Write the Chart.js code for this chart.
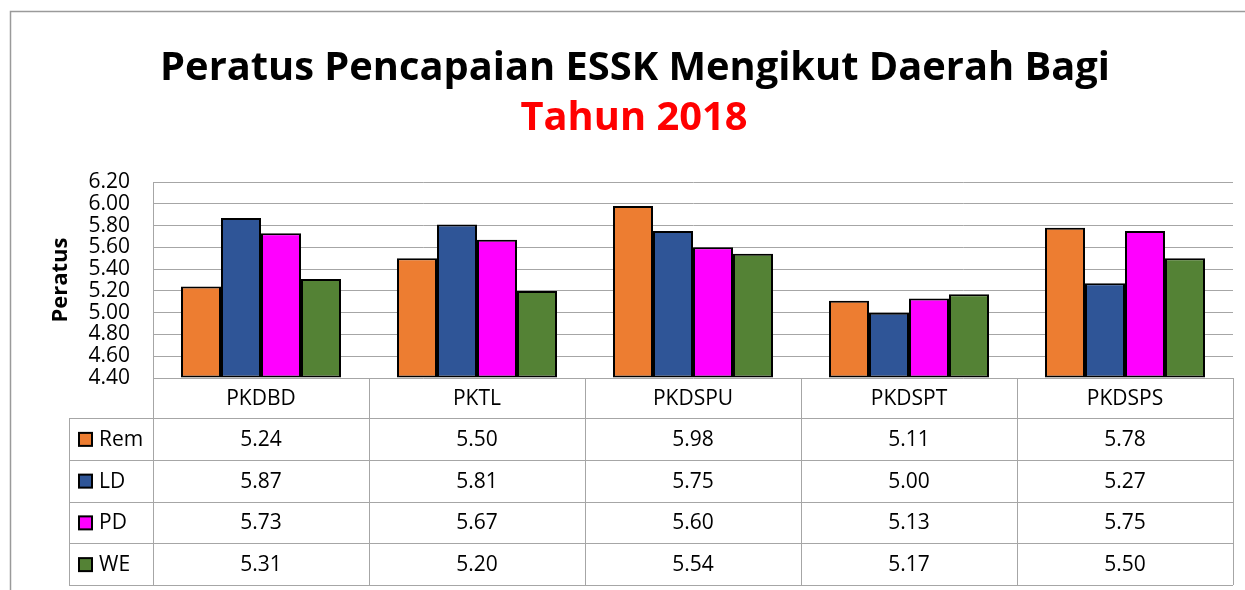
<!DOCTYPE html>
<html><head><meta charset="utf-8">
<script src="https://cdn.jsdelivr.net/npm/chart.js@4.4.1/dist/chart.umd.min.js"></script>
<style>html,body{margin:0;padding:0;background:#fff;overflow:hidden}canvas{display:block}</style>
</head><body>
<canvas id="c" width="1245" height="590"></canvas>
<script>
const titleLine1 = 'Peratus Pencapaian ESSK Mengikut Daerah Bagi';
const titleLine2 = 'Tahun 2018';
const yAxisTitle = 'Peratus';
const categories = ['PKDBD', 'PKTL', 'PKDSPU', 'PKDSPT', 'PKDSPS'];
const seriesNames = ['Rem', 'LD', 'PD', 'WE'];
const remValues = [5.24, 5.50, 5.98, 5.11, 5.78];
const ldValues = [5.87, 5.81, 5.75, 5.00, 5.27];
const pdValues = [5.73, 5.67, 5.60, 5.13, 5.75];
const weValues = [5.31, 5.20, 5.54, 5.17, 5.50];
const seriesColors = ['#ED7D31', '#2F5597', '#FF00FF', '#548235'];
const yMin = 4.4, yMax = 6.2, yStep = 0.2;

const FAMILY = '"Open Sans", "Noto Sans", sans-serif';
const GRID = '#A6A6A6';

const mctx = document.createElement('canvas').getContext('2d');
function fitSize(text, targetW) {
  mctx.font = 'bold 100px ' + FAMILY;
  return 100 * targetW / mctx.measureText(text).width;
}
const titleSize = fitSize(titleLine1, 950);

const allSeries = [remValues, ldValues, pdValues, weValues];

const framePlugin = {
  id: 'frame',
  beforeDraw(chart) {
    const ctx = chart.ctx;
    ctx.save();
    ctx.fillStyle = '#fff';
    ctx.fillRect(0, 0, chart.width, chart.height);
    ctx.strokeStyle = '#9A9A9A';
    ctx.lineWidth = 1.5;
    ctx.beginPath();
    ctx.moveTo(chart.width, 11.5);
    ctx.lineTo(10.5, 11.5);
    ctx.lineTo(10.5, chart.height);
    ctx.stroke();
    ctx.textAlign = 'center';
    ctx.textBaseline = 'alphabetic';
    ctx.font = 'bold ' + titleSize + 'px ' + FAMILY;
    ctx.fillStyle = '#000';
    ctx.fillText(titleLine1, 635, 80);
    ctx.fillStyle = '#FF0000';
    ctx.fillText(titleLine2, 634, 130);
    ctx.restore();
  }
};

const tablePlugin = {
  id: 'dataTable',
  afterDraw(chart) {
    const ctx = chart.ctx;
    const area = chart.chartArea;
    const n = categories.length;
    const colW = area.width / n;
    const headerTop = area.bottom;
    const headerBottom = headerTop + 40;
    const tableBottom = 585;
    const rowH = (tableBottom - headerBottom) / seriesNames.length;
    const labelLeft = 69;
    ctx.save();
    ctx.strokeStyle = GRID;
    ctx.lineWidth = 1;
    ctx.beginPath();
    for (let i = 0; i <= seriesNames.length; i++) {
      const y = Math.round(headerBottom + i * rowH) + 0.5;
      ctx.moveTo(labelLeft, y);
      ctx.lineTo(area.right, y);
    }
    for (let j = 0; j <= n; j++) {
      const x = Math.round(area.left + j * colW) + 0.5;
      ctx.moveTo(x, headerTop);
      ctx.lineTo(x, tableBottom);
    }
    ctx.moveTo(labelLeft + 0.5, headerBottom);
    ctx.lineTo(labelLeft + 0.5, tableBottom);
    ctx.stroke();

    ctx.fillStyle = '#000';
    ctx.font = '21px ' + FAMILY;
    ctx.textAlign = 'center';
    ctx.textBaseline = 'middle';
    for (let j = 0; j < n; j++) {
      const cx = area.left + (j + 0.5) * colW;
      ctx.fillText(categories[j], cx, headerTop + 21);
      for (let i = 0; i < seriesNames.length; i++) {
        const cy = headerBottom + (i + 0.5) * rowH + 1;
        ctx.fillText(allSeries[i][j].toFixed(2), cx, cy);
      }
    }
    ctx.textAlign = 'left';
    for (let i = 0; i < seriesNames.length; i++) {
      const cy = headerBottom + (i + 0.5) * rowH;
      ctx.fillStyle = seriesColors[i];
      ctx.fillRect(79, cy - 6, 13, 13);
      ctx.strokeStyle = '#000';
      ctx.lineWidth = 2;
      ctx.strokeRect(79, cy - 6, 13, 13);
      ctx.fillStyle = '#000';
      ctx.fillText(seriesNames[i], 99, cy + 1);
    }
    ctx.restore();
  }
};

new Chart(document.getElementById('c'), {
  type: 'bar',
  data: {
    labels: categories,
    datasets: seriesNames.map((name, i) => ({
      label: name,
      data: allSeries[i],
      backgroundColor: seriesColors[i],
      borderColor: '#000',
      borderWidth: 2,
      borderSkipped: false,
      inflateAmount: 0,
      base: yMin,
      categoryPercentage: 160 / 216,
      barPercentage: 1.0
    }))
  },
  options: {
    responsive: false,
    devicePixelRatio: 1,
    animation: false,
    layout: { padding: { left: 8, right: 12, top: 182, bottom: 212 } },
    plugins: {
      legend: { display: false },
      title: { display: false },
      tooltip: { enabled: false }
    },
    scales: {
      x: { display: false },
      y: {
        min: yMin,
        max: yMax,
        afterFit(scale) { scale.width = 145; },
        ticks: {
          stepSize: yStep,
          autoSkip: false,
          padding: 23,
          color: '#000',
          font: { size: 21, family: FAMILY },
          callback: v => Number(v).toFixed(2)
        },
        grid: { color: GRID, lineWidth: 1, drawTicks: false },
        border: { display: true, color: GRID, width: 1 },
        title: {
          display: true,
          text: yAxisTitle,
          color: '#000',
          font: { size: 22, weight: 'bold', family: FAMILY },
          padding: { top: 40, bottom: 0 }
        }
      }
    }
  },
  plugins: [framePlugin, tablePlugin]
});
</script>
</body></html>
